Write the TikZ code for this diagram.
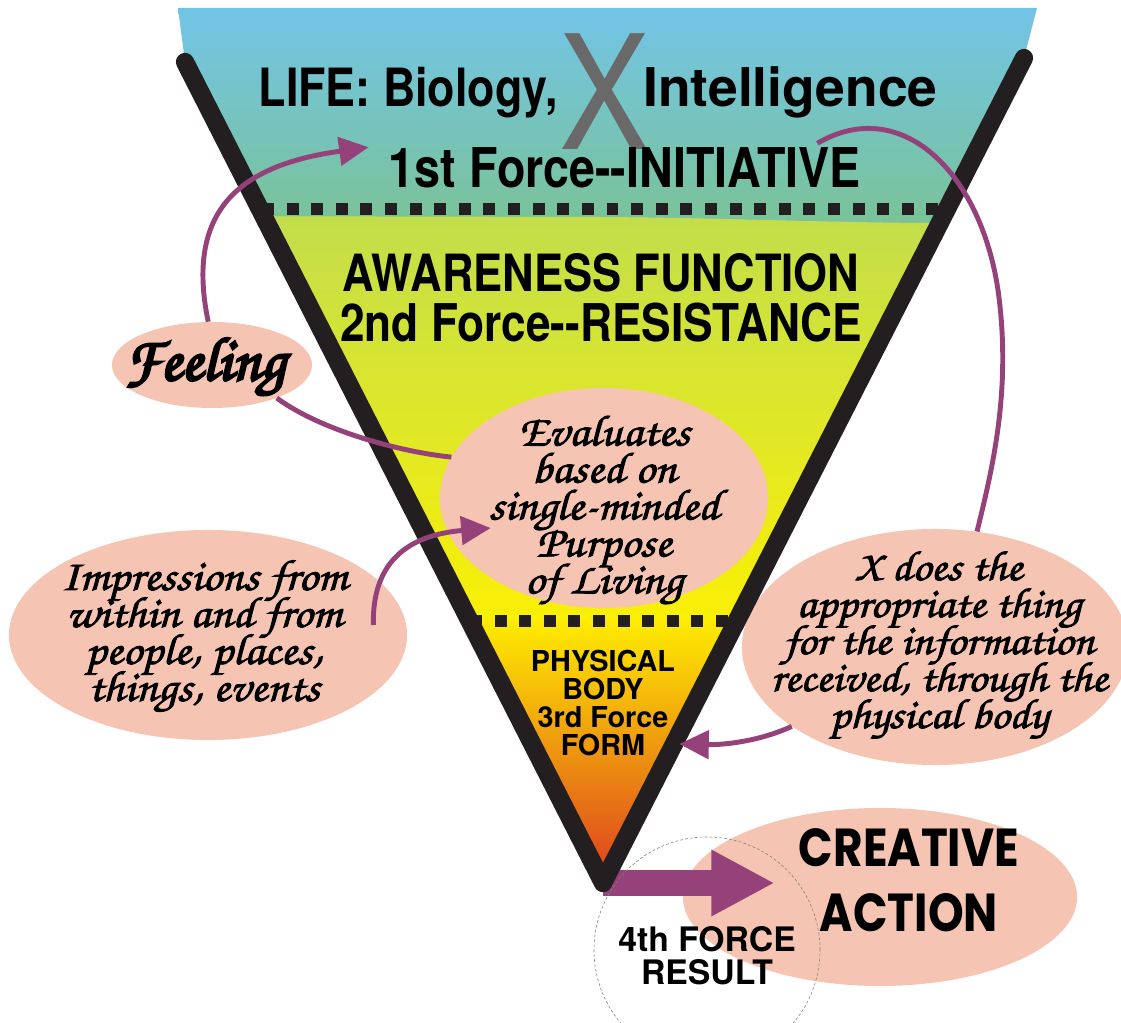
\documentclass[tikz,border=0pt]{standalone}
\usepackage{fontspec}
\usetikzlibrary{shapes.geometric, arrows.meta, positioning, calc}

\newfontfamily\heroscn[FakeStretch=0.85]{TeX Gyre Heros}
\newfontfamily\heros{TeX Gyre Heros}
\newfontfamily\geofont[FakeStretch=0.85]{Poppins}
\newfontfamily\brush[Extension=.otf, FakeBold=2, FakeStretch=1.1]{texgyrechorus-mediumitalic}
\newfontfamily\brushbold[Extension=.otf, FakeBold=4]{texgyrechorus-mediumitalic}
\lineskiplimit=-100pt

\definecolor{skytop}{RGB}{114,196,234}
\definecolor{lifegreen}{RGB}{122,195,150}
\definecolor{awarelime}{RGB}{195,222,75}
\definecolor{awareyellow}{RGB}{250,240,5}
\definecolor{formyellow}{RGB}{255,236,0}
\definecolor{formorange}{RGB}{240,148,22}
\definecolor{formred}{RGB}{222,70,30}
\definecolor{bubblepink}{RGB}{245,196,178}
\definecolor{plum}{RGB}{150,66,122}
\definecolor{funnelblack}{RGB}{35,31,32}
\definecolor{xgray}{RGB}{105,105,105}

\tikzstyle{bubble} = [ellipse, fill=bubblepink, inner sep=0pt]
\tikzstyle{headline} = [font=\heroscn\bfseries\fontsize{37.5}{40}\selectfont, inner sep=0pt, anchor=base]
\tikzstyle{bodytext} = [font=\heros\bfseries\fontsize{20.5}{20}\selectfont, align=center, inner sep=0pt]
\tikzstyle{brushtext} = [font=\brush\fontsize{31}{26.3}\selectfont, align=center, inner sep=0pt]
\tikzstyle{flow} = [draw=plum, line width=3.5pt, -{Triangle[length=21pt, width=20pt]}]
\tikzstyle{flowline} = [draw=plum, line width=3.5pt]
\tikzstyle{push} = [draw=plum, line width=17.8pt, -{Triangle[length=45pt, width=44pt]}]
\tikzstyle{dotline} = [draw=funnelblack, line width=8.5pt, dash pattern=on 8.5pt off 9pt]
\tikzstyle{funnel} = [draw=funnelblack, line width=13pt, line cap=round, line join=round]

\begin{document}
\begin{tikzpicture}[x=0.025cm, y=-0.025cm]
\useasboundingbox (0,0) rectangle (1121,1023);

% --- Funnel colours ---
\coordinate (apex) at (603,883);
\coordinate (rim_left) at (185,62);
\coordinate (rim_right) at (1024,58);

\begin{scope}
\clip (178,8) -- (1037,8) -- (rim_right) -- (apex) -- (rim_left) -- cycle;
\shade[top color=skytop, bottom color=lifegreen] (150,0) rectangle (1060,230);
\shade[top color=awarelime, bottom color=awareyellow] (150,216) -- (600,217) .. controls (760,218) and (880,226) .. (1060,222) -- (1060,624) -- (150,624) -- cycle;
\shade[top color=formyellow, middle color=formorange, bottom color=formred] (150,620) rectangle (1060,870);
\fill[formred] (150,869) rectangle (1060,900);
\end{scope}

% level separators
\draw[dotline] (262,209) -- (948,209);
\draw[dotline] (470,621) -- (737,621);

% --- Bubbles ---
\node (feeling) [bubble, minimum width=5cm, minimum height=2.15cm] at (212,365) {};
\node (impressions) [bubble, minimum width=9.95cm, minimum height=5.25cm] at (208,635) {};
\node (evaluates) [bubble, minimum width=8.2cm, minimum height=5.5cm] at (604,498) {};
\node (xdoes) [bubble, minimum width=9.65cm, minimum height=5.9cm] at (935,647) {};
\node (creative) [bubble, minimum width=9.85cm, minimum height=4.45cm] at (880,897) {};

% 4th force arrow, under the funnel tip
\coordinate (push_tip) at ([shift={(92,-16)}]creative.west);
\draw[push] (apex) -- (apex -| push_tip);

% funnel outline
\draw[funnel] (rim_left) -- (apex) -- (rim_right);

% --- Levels ---
\node (x_mark) [font=\heroscn\fontsize{113}{113}\selectfont, text=xgray, inner sep=0pt, anchor=base] at (605,150) {X};
\node (life_left) [headline, anchor=base east] at (558,107) {LIFE: Biology,};
\node (life_right) [headline, font=\heros\bfseries\fontsize{38}{40}\selectfont, anchor=base west] at (643,107) {Intelligence};
\node (initiative) [headline, font=\heroscn\bfseries\fontsize{39}{40}\selectfont] at (625,188) {1st Force-{}-INITIATIVE};
\node (awareness) [headline, font=\heroscn\bfseries\fontsize{36.5}{40}\selectfont] at (601,292) {AWARENESS FUNCTION};
\node (resistance) [headline, font=\heroscn\bfseries\fontsize{37}{40}\selectfont] at (601,342) {2nd Force-{}-RESISTANCE};
\node (physical) [bodytext] at (603,703) {PHYSICAL\\BODY\\3rd Force\\FORM};

% --- Bubble texts ---
\node (feeling_txt) [font=\brushbold\fontsize{44}{44}\selectfont, inner sep=0pt, anchor=base] at (205,380) {Feeling};
\node (evaluates_txt) [brushtext] at (604,510) {Evaluates\\based on\\single-minded\\Purpose\\of Living};
\node (impressions_txt) [brushtext] at (204,636) {Impressions from\\within and from\\people, places,\\things, events};
\node (xdoes_txt) [brushtext, font=\brush\fontsize{30}{26.3}\selectfont] at (939,645) {X does the\\appropriate thing\\for the information\\received, through the\\physical body};
\node (creative_txt) [font=\geofont\bfseries\fontsize{38}{46}\selectfont, align=center, inner sep=0pt] at (909,880) {CREATIVE\\ACTION};

% --- Connections ---
\coordinate (init_tip) at ([shift={(-20,-21)}]initiative.west);
\draw[flow] (feeling.95) .. controls (185,210) and (240,165) .. (init_tip);
\draw[flowline] (feeling.-27) .. controls (320,430) and (400,452) .. (evaluates.165);

\coordinate (imp_start) at ([shift={(-34,-10)}]impressions.east);
\coordinate (eval_tip) at ([shift={(51,30)}]evaluates.west);
\draw[flow] (imp_start) .. controls (372,560) and (410,535) .. (eval_tip);

\draw[flowline] ([shift={(-44,-25)}]initiative.east) .. controls (900,95) and (980,170) .. (998,290) .. controls (1012,390) and (992,470) .. (xdoes.70);

\coordinate (form_tip) at ([shift={(4,41)}]physical.east);
\draw[flow] (xdoes.209) .. controls (760,741) and (725,745) .. (form_tip);

% result circle
\node (result) [circle, draw=gray, line width=0.4pt, dash pattern=on 2pt off 1.5pt, minimum size=5.65cm, inner sep=0pt] at (707,950) {};
\node (result_txt) [align=center, inner sep=0pt, font=\heros\bfseries\fontsize{24}{23.5}\selectfont] at (707,956) {4th FORCE\\RESULT};

\end{tikzpicture}
\end{document}
